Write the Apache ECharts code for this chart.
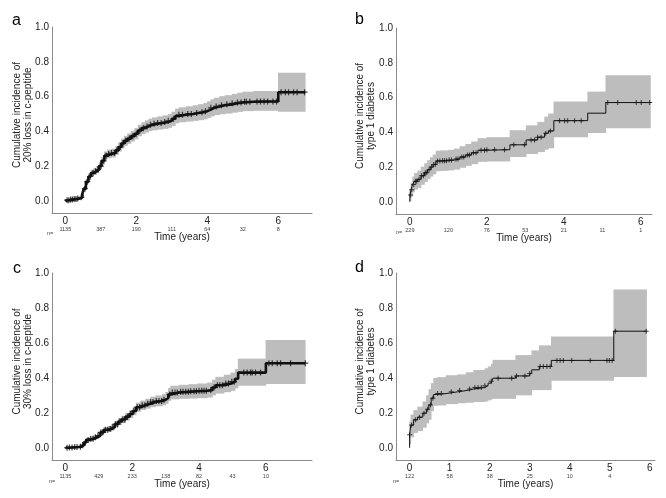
<!DOCTYPE html>
<html><head><meta charset="utf-8">
<script src="https://cdn.jsdelivr.net/npm/echarts@6/dist/echarts.min.js"></script>
<style>html,body{margin:0;padding:0;background:#fff}#c{width:666px;height:498px}</style>
</head><body><div id="c"></div>
<script>
// ---------- Panel a : 20% loss in c-peptide ----------
const timesA = [0,0.05,0.15,0.25,0.35,0.42,0.48,0.52,0.58,0.65,0.72,0.80,0.88,0.95,1.02,1.10,1.18,1.30,1.42,1.50,1.58,1.66,1.75,1.85,1.95,2.05,2.15,2.25,2.35,2.45,2.60,2.75,2.90,3.00,3.10,3.20,3.40,3.60,3.75,3.90,4.00,4.10,4.20,4.35,4.50,4.70,4.85,5.00,5.30,6.00,6.76];
const estA   = [0,0.004,0.008,0.011,0.014,0.020,0.040,0.070,0.110,0.140,0.160,0.170,0.180,0.200,0.230,0.260,0.270,0.275,0.290,0.310,0.330,0.345,0.358,0.372,0.386,0.405,0.418,0.428,0.437,0.443,0.448,0.453,0.460,0.472,0.488,0.495,0.500,0.505,0.510,0.516,0.525,0.535,0.543,0.550,0.555,0.561,0.566,0.570,0.572,0.625,0.625];
const loA    = [0,0.000,0.002,0.004,0.006,0.010,0.028,0.055,0.094,0.122,0.141,0.150,0.160,0.179,0.207,0.236,0.245,0.250,0.264,0.283,0.302,0.316,0.328,0.341,0.354,0.372,0.384,0.393,0.401,0.406,0.410,0.414,0.420,0.431,0.446,0.452,0.456,0.460,0.464,0.469,0.477,0.486,0.493,0.498,0.502,0.507,0.512,0.516,0.518,0.513,0.513];
const hiA    = [0.004,0.010,0.015,0.019,0.023,0.030,0.052,0.085,0.126,0.158,0.179,0.190,0.201,0.222,0.253,0.284,0.295,0.300,0.316,0.337,0.358,0.374,0.388,0.403,0.418,0.438,0.452,0.463,0.473,0.480,0.486,0.492,0.500,0.513,0.530,0.538,0.544,0.550,0.556,0.563,0.573,0.584,0.593,0.602,0.608,0.615,0.622,0.628,0.632,0.737,0.737];
const censorA = [0.05,0.1,0.15,0.2,0.25,0.3,0.35,0.45,0.55,0.62,0.7,0.78,0.85,0.92,1.0,1.08,1.15,1.22,1.3,1.38,1.45,1.55,1.62,1.7,1.8,1.9,2.0,2.1,2.2,2.3,2.4,2.5,2.6,2.7,2.8,2.9,3.05,3.2,3.3,3.45,3.55,3.7,3.85,3.95,4.1,4.25,4.4,4.55,4.7,4.85,4.95,5.05,5.1,5.2,5.4,5.5,5.6,5.7,5.85,5.95,6.08,6.2,6.29,6.43,6.53,6.74];
const nTimesA = [0,1,2,3,4,5,6];
const nA = [1135,387,190,111,64,32,8];
const xTicksA = [0,2,4,6];

// ---------- Panel b : type 1 diabetes ----------
const timesB = [0,0,0.03,0.07,0.12,0.20,0.29,0.38,0.46,0.53,0.60,0.68,0.80,1.00,1.15,1.30,1.45,1.60,1.77,2.00,2.60,3.02,3.32,3.50,3.60,3.74,4.62,5.09,6.25];
const estB   = [0,0.040,0.070,0.100,0.118,0.130,0.150,0.168,0.185,0.200,0.215,0.235,0.237,0.240,0.246,0.258,0.270,0.282,0.297,0.300,0.328,0.356,0.372,0.395,0.408,0.467,0.510,0.571,0.571];
const loB    = [0,0.005,0.030,0.055,0.070,0.080,0.098,0.114,0.130,0.145,0.158,0.176,0.178,0.181,0.186,0.196,0.207,0.217,0.230,0.232,0.258,0.275,0.286,0.300,0.308,0.372,0.396,0.424,0.424];
const hiB    = [0,0.075,0.110,0.145,0.166,0.180,0.202,0.222,0.240,0.257,0.272,0.294,0.296,0.299,0.306,0.320,0.333,0.347,0.366,0.372,0.412,0.440,0.460,0.490,0.508,0.577,0.634,0.728,0.728];
const censorB = [0.02,0.05,0.1,0.15,0.18,0.24,0.3,0.35,0.4,0.44,0.5,0.56,0.62,0.66,0.72,0.78,0.85,0.9,0.95,1.02,1.08,1.2,1.25,1.35,1.4,1.5,1.55,1.65,1.72,1.85,1.94,2.0,2.2,2.46,2.7,2.98,3.15,3.24,3.32,3.41,3.53,3.65,3.89,4.02,4.1,4.28,4.45,5.14,5.4,5.88,6.01,6.23];
const nTimesB = [0,1,2,3,4,5,6];
const nB = [229,120,76,53,21,11,1];
const xTicksB = [0,2,4,6];

// ---------- Panel c : 30% loss in c-peptide ----------
const timesC = [0,0.10,0.25,0.40,0.48,0.55,0.62,0.72,0.85,0.95,1.05,1.15,1.28,1.38,1.48,1.58,1.68,1.80,1.92,2.02,2.12,2.25,2.40,2.55,2.70,2.90,3.00,3.08,3.15,3.40,3.70,3.95,4.25,4.40,4.50,4.75,4.95,5.08,5.17,6.00,7.18];
const estC   = [0,0.002,0.004,0.006,0.015,0.030,0.045,0.052,0.060,0.070,0.088,0.103,0.108,0.118,0.135,0.150,0.162,0.178,0.193,0.210,0.232,0.243,0.252,0.262,0.268,0.275,0.285,0.305,0.316,0.320,0.323,0.326,0.330,0.345,0.358,0.368,0.378,0.395,0.430,0.484,0.484];
const loC    = [0,0.000,0.000,0.001,0.008,0.021,0.035,0.041,0.048,0.057,0.073,0.087,0.091,0.100,0.116,0.130,0.141,0.156,0.170,0.186,0.206,0.216,0.224,0.232,0.237,0.243,0.251,0.268,0.277,0.280,0.282,0.284,0.287,0.300,0.310,0.318,0.326,0.340,0.355,0.365,0.365];
const hiC    = [0.004,0.006,0.009,0.012,0.022,0.039,0.055,0.063,0.072,0.083,0.103,0.119,0.125,0.136,0.154,0.170,0.183,0.200,0.216,0.234,0.258,0.270,0.280,0.292,0.299,0.307,0.319,0.342,0.355,0.360,0.364,0.368,0.373,0.390,0.406,0.418,0.430,0.450,0.510,0.617,0.617];
const censorC = [0.05,0.12,0.2,0.28,0.35,0.45,0.52,0.6,0.68,0.76,0.83,0.9,0.98,1.06,1.12,1.2,1.27,1.34,1.42,1.5,1.56,1.63,1.72,1.78,1.86,1.95,2.05,2.15,2.22,2.3,2.38,2.46,2.55,2.62,2.72,2.8,2.88,2.95,3.12,3.2,3.28,3.35,3.45,3.52,3.6,3.68,3.75,3.85,3.92,4.0,4.08,4.15,4.22,4.35,4.45,4.55,4.62,4.7,4.8,4.88,4.98,5.05,5.34,5.44,5.54,5.59,5.69,5.84,6.09,6.19,6.34,6.44,6.74,7.18];
const nTimesC = [0,1,2,3,4,5,6];
const nC = [1135,429,233,138,82,43,10];
const xTicksC = [0,2,4,6];

// ---------- Panel d : type 1 diabetes ----------
const timesD = [0,0,0.03,0.10,0.20,0.33,0.42,0.48,0.54,0.60,0.70,0.91,1.20,1.41,1.60,1.88,1.96,2.04,2.08,2.65,3.00,3.05,3.24,3.54,5.10,5.92];
const estD   = [0,0.075,0.130,0.160,0.175,0.198,0.220,0.245,0.284,0.305,0.310,0.320,0.327,0.336,0.345,0.355,0.370,0.380,0.398,0.411,0.425,0.446,0.465,0.500,0.667,0.667];
const loD    = [0,0.020,0.060,0.085,0.095,0.115,0.140,0.160,0.210,0.240,0.242,0.250,0.255,0.258,0.262,0.265,0.272,0.278,0.280,0.300,0.300,0.330,0.330,0.383,0.405,0.405];
const hiD    = [0,0.150,0.190,0.215,0.235,0.265,0.300,0.335,0.370,0.400,0.404,0.415,0.420,0.432,0.445,0.455,0.465,0.480,0.503,0.530,0.530,0.557,0.586,0.636,0.906,0.906];
const censorD = [0,0.05,0.15,0.25,0.36,0.45,0.52,0.58,0.7,0.79,1.04,1.25,1.5,1.63,1.71,1.79,1.88,2.04,2.21,2.55,2.67,2.88,3.0,3.26,3.34,3.43,3.51,3.68,3.76,3.84,4.05,4.51,4.93,4.99,5.06,5.14,5.91];
const nTimesD = [0,1,2,3,4,5];
const nD = [122,58,38,25,10,4];
const xTicksD = [0,1,2,3,4,5,6];

const yTicks = [0,0.2,0.4,0.6,0.8,1.0];
const yTitles = ['Cumulative incidence of\n20% loss in c-peptide','Cumulative incidence of\ntype 1 diabetes','Cumulative incidence of\n30% loss in c-peptide','Cumulative incidence of\ntype 1 diabetes'];
const panelLetters = ['a','b','c','d'];

const FONT = 'Liberation Sans, Arial, Helvetica, sans-serif';
const AXIS_COLOR = '#8a8a8a';
const BAND_COLOR = '#bdbdbd';
const PLUS = 'path://M2,0H3V5H2ZM0,2H5V3H0Z';

const panels = [
  {t:timesA,e:estA,lo:loA,hi:hiA,c:censorA,nt:nTimesA,n:nA,xt:xTicksA,grid:{left:52,top:27,width:260,height:186},xmin:-0.375,xmax:6.95,lw:2.6,ms:6,ng:18,nx:42,ny:225,lx:7,ly:8},
  {t:timesB,e:estB,lo:loB,hi:hiB,c:censorB,nt:nTimesB,n:nB,xt:xTicksB,grid:{left:396,top:28,width:256,height:186},xmin:-0.36,xmax:6.29,lw:1,ms:5,ng:19,nx:391,ny:224,lx:350,ly:7},
  {t:timesC,e:estC,lo:loC,hi:hiC,c:censorC,nt:nTimesC,n:nC,xt:xTicksC,grid:{left:52,top:273,width:260,height:187},xmin:-0.4,xmax:7.38,lw:2.6,ms:6,ng:18,nx:44,ny:473,lx:8,ly:256},
  {t:timesD,e:estD,lo:loD,hi:hiD,c:censorD,nt:nTimesD,n:nD,xt:xTicksD,grid:{left:396,top:273,width:259,height:187},xmin:-0.34,xmax:6.13,lw:1,ms:5,ng:19,nx:388,ny:473,lx:350,ly:255}
];

function stepLookup(times, est, x) {
  let v = est[0];
  for (let i = 0; i < times.length; i++) { if (times[i] <= x) v = est[i]; }
  return v;
}

function bandItem(params, api) {
  const a = api.coord([api.value(0), api.value(3)]);
  const b = api.coord([api.value(1), api.value(2)]);
  const x = Math.min(a[0], b[0]) - 0.3, w = Math.abs(b[0] - a[0]) + 0.6;
  const y = Math.min(a[1], b[1]), h = Math.abs(b[1] - a[1]);
  return {type:'rect', shape:{x, y, width:w, height:h}, style:{fill:BAND_COLOR}};
}

const grid = [], xAxis = [], yAxis = [], series = [], title = [];
panels.forEach((p, i) => {
  grid.push(Object.assign({containLabel:false}, p.grid));
  xAxis.push({
    gridIndex:i, type:'value', min:p.xmin, max:p.xmax, position:'bottom',
    axisLine:{show:true,onZero:false,lineStyle:{color:AXIS_COLOR,width:1}},
    axisTick:{show:false}, splitLine:{show:false},
    axisLabel:{customValues:p.xt, formatter:v=>String(Math.round(v)), fontSize:10, color:'#222', margin:3, fontFamily:FONT},
    name:'Time (years)', nameLocation:'middle', nameGap:19, nameMoveOverlap:false,
    nameTextStyle:{fontSize:10,color:'#222',fontFamily:FONT}
  });
  xAxis.push({
    gridIndex:i, type:'value', min:p.xmin, max:p.xmax, position:'bottom', offset:0,
    axisLine:{show:false}, axisTick:{show:false}, splitLine:{show:false},
    axisLabel:{customValues:p.nt, formatter:v=>{const k=p.nt.indexOf(Math.round(v));return k>=0?String(p.n[k]):'';}, fontSize:5.5, color:'#444', margin:13, fontFamily:FONT}
  });
  yAxis.push({
    gridIndex:i, type:'value', min:-0.07, max:1.0,
    axisLine:{show:true,onZero:false,lineStyle:{color:AXIS_COLOR,width:1}},
    axisTick:{show:false}, splitLine:{show:false},
    axisLabel:{customValues:yTicks, formatter:v=>v.toFixed(1), fontSize:10, color:'#222', margin:3, fontFamily:FONT},
    name:yTitles[i], nameLocation:'middle', nameGap:p.ng, nameMoveOverlap:false,
    nameTextStyle:{fontSize:10,color:'#222',fontFamily:FONT,lineHeight:11,padding:[0,0,0,10]}
  });
  const xi = i*2;
  const bandData = [];
  for (let k = 0; k < p.t.length - 1; k++) {
    if (p.t[k+1] > p.t[k]) bandData.push([p.t[k], p.t[k+1], p.lo[k], p.hi[k]]);
  }
  series.push({
    type:'custom', xAxisIndex:xi, yAxisIndex:i, renderItem:bandItem, silent:true,
    encode:{x:[0,1], y:[2,3]}, data:bandData, z:1
  });
  series.push({
    type:'line', xAxisIndex:xi, yAxisIndex:i, step:'end', symbol:'none', silent:true,
    lineStyle:{color:'#111',width:p.lw}, data:p.t.map((t,k)=>[t,p.e[k]]), z:3
  });
  series.push({
    type:'scatter', xAxisIndex:xi, yAxisIndex:i, symbol:PLUS, symbolSize:p.ms, silent:true,
    itemStyle:{color:'#111'}, data:p.c.map(t=>[t,stepLookup(p.t,p.e,t)]), z:4
  });
  title.push({text:panelLetters[i], left:p.lx, top:p.ly, textStyle:{fontSize:16,fontWeight:'normal',color:'#000',fontFamily:FONT}});
  title.push({text:'n=', left:p.nx, top:p.ny, textStyle:{fontSize:5.5,fontWeight:'normal',color:'#444',fontFamily:FONT}});
});

const chart = echarts.init(document.getElementById('c'), null, {renderer:'canvas'});
chart.setOption({animation:false, backgroundColor:'#fff', title, grid, xAxis, yAxis, series});
</script></body></html>
